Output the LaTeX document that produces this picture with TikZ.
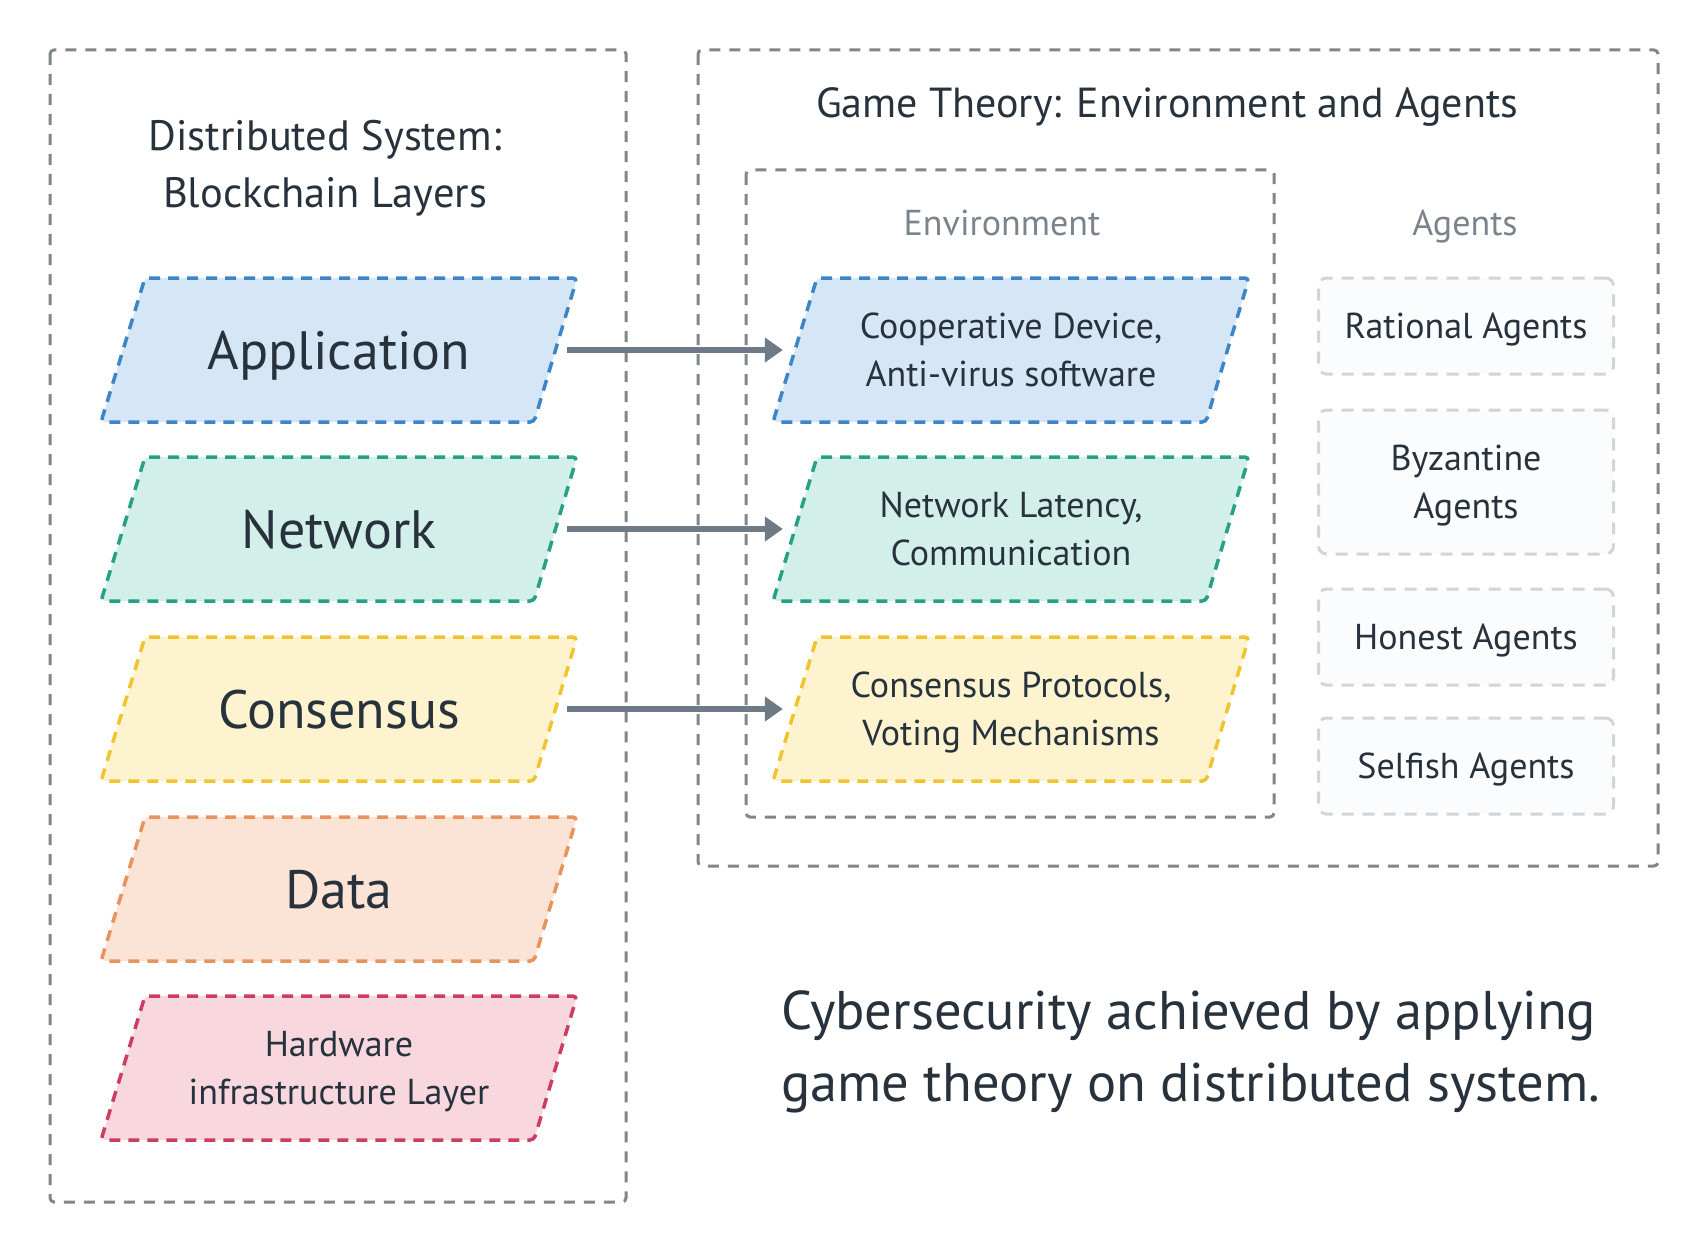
\documentclass[tikz,border=0pt]{standalone}
\usepackage{fontspec}
\setmainfont{PT Sans}
\usetikzlibrary{arrows.meta}
\definecolor{txt}{HTML}{27323D}
\definecolor{frame}{HTML}{80878B}
\definecolor{lbl}{HTML}{7B848C}
\definecolor{arr}{HTML}{6E7B87}
\definecolor{bluef}{HTML}{D5E6F7}\definecolor{blued}{HTML}{3D85C6}
\definecolor{greenf}{HTML}{D3EFE9}\definecolor{greend}{HTML}{27A085}
\definecolor{yellowf}{HTML}{FDF3CF}\definecolor{yellowd}{HTML}{F0C430}
\definecolor{orangef}{HTML}{FBE3D5}\definecolor{oranged}{HTML}{E8935E}
\definecolor{pinkf}{HTML}{F8D7DF}\definecolor{pinkd}{HTML}{CC3D62}
\definecolor{agentd}{HTML}{D2D4D6}\definecolor{agentf}{HTML}{FBFCFD}
\tikzset{
  outerbox/.style={draw=frame, line width=3pt, dash pattern=on 11pt off 9pt, rounded corners=4pt},
  parabox/.style={line width=3.5pt, dash pattern=on 11pt off 8pt, rounded corners=4pt},
  paralabel/.style={minimum width=456pt, minimum height=144pt, inner sep=0pt, text=txt, align=center, text depth=0pt},
  bigtxt/.style={font=\fontsize{54}{60}\selectfont},
  smalltxt/.style={font=\fontsize{36}{48}\selectfont},
  agentbox/.style={draw=agentd, fill=agentf, line width=3pt, dash pattern=on 12pt off 9pt, rounded corners=8pt,
    minimum width=295pt, text=txt, align=center, text depth=0pt, font=\fontsize{36}{48}\selectfont},
  flow/.style={draw=arr, line width=6pt, -{Triangle[length=18pt,width=24pt]}},
}
\newcommand\para[7]{%
  \draw[parabox, fill=#4, draw=#5] ({#2-194},{#3-72}) -- ({#2+238},{#3-72}) -- ({#2+195},{#3+72}) -- ({#2-238},{#3+72}) -- cycle;
  \node[paralabel, #6] (#1) at (#2,#3) {#7};
}
\begin{document}
\begin{tikzpicture}[x=1pt,y=-1pt]
\useasboundingbox (0,0) rectangle (1708,1252);
\fill[white] (0,0) rectangle (1708,1252);
% outer boxes
\draw[outerbox] (50,50) rectangle (626,1202);
\draw[outerbox] (698,50) rectangle (1658,866);
\draw[outerbox] (746,170) rectangle (1274,817);
% titles
\node[text=txt, align=center, font=\fontsize{42.5}{57}\selectfont] (dstitle) at (325,168) {Distributed System:\\Blockchain Layers};
\node[text=txt, font=\fontsize{42}{48}\selectfont] (gttitle) at (1167,107) {Game Theory: Environment and Agents};
\node[text=lbl, anchor=base, font=\fontsize{36}{40}\selectfont] (envtitle) at (1002,236) {Environment};
\node[text=lbl, anchor=base, font=\fontsize{36}{40}\selectfont] (agtitle) at (1465,236) {Agents};
% left layers
\para{app}{339}{350}{bluef}{blued}{bigtxt}{Application}
\para{net}{339}{529}{greenf}{greend}{bigtxt}{Network}
\para{cons}{339}{709}{yellowf}{yellowd}{bigtxt}{Consensus}
\para{data}{339}{889}{orangef}{oranged}{bigtxt}{Data}
\para{hw}{339}{1068}{pinkf}{pinkd}{smalltxt}{Hardware\\infrastructure Layer}
% environment boxes
\para{coop}{1011}{350}{bluef}{blued}{smalltxt}{Cooperative Device,\\Anti-virus software}
\para{lat}{1011}{529}{greenf}{greend}{smalltxt}{Network Latency,\\Communication}
\para{prot}{1011}{709}{yellowf}{yellowd}{smalltxt}{Consensus Protocols,\\Voting Mechanisms}
% agents
\node[agentbox, minimum height=96pt] (rat) at (1466,326) {Rational Agents};
\node[agentbox, minimum height=144pt] (byz) at (1466,482) {Byzantine\\Agents};
\node[agentbox, minimum height=96pt] (hon) at (1466,637) {Honest Agents};
\node[agentbox, minimum height=96pt] (sel) at (1466,766) {Selfish Agents};
% arrows
\draw[flow] (app.east) -- (coop.west);
\draw[flow] (net.east) -- (lat.west);
\draw[flow] (cons.east) -- (prot.west);
% bottom statement
\node[anchor=west, text=txt, align=left, inner sep=0pt, font=\fontsize{54.5}{72}\selectfont] (concl) at (781,1052) {Cybersecurity achieved by applying\\game theory on distributed system.};
\end{tikzpicture}
\end{document}
